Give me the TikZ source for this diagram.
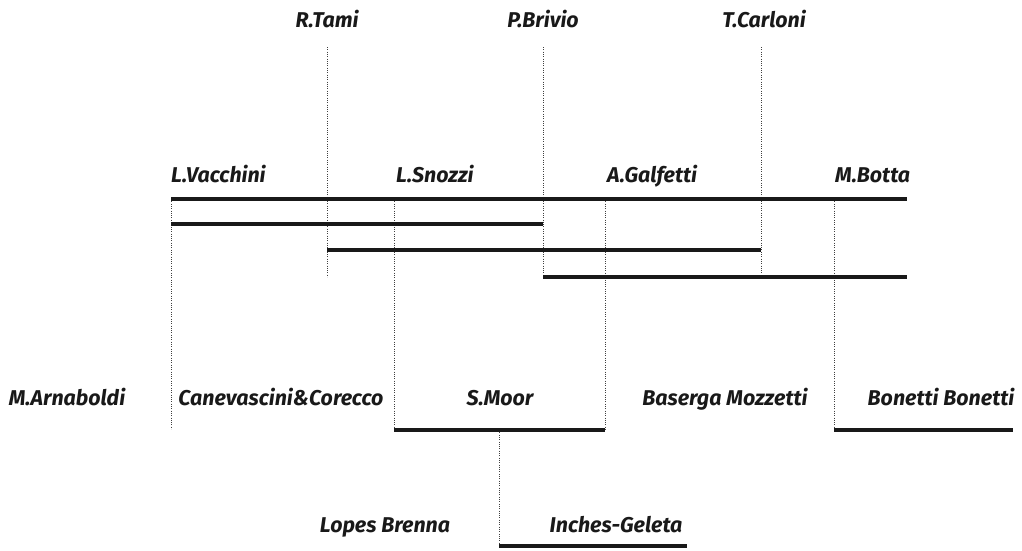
\documentclass[tikz,border=0pt]{standalone}
\usepackage{fontspec}
\setmainfont{Fira Sans}
\usepackage{tikz}
\usetikzlibrary{positioning}

\begin{document}
\begin{tikzpicture}[
    x=1pt, y=-1pt,
    arch/.style={font=\bfseries\itshape\fontsize{21.4}{21.4}\selectfont, text=black!90, inner sep=0pt},
    bar/.style={line width=4pt, black!90},
    link/.style={line width=0.7pt, black!75, dash pattern=on 0.7pt off 1.6pt}
]
\useasboundingbox (0,0) rectangle (1022,550);

% === Top row ===
\node[arch, anchor=base] (tami)    at (327,27) {R.Tami};
\node[arch, anchor=base] (brivio)  at (543,27) {P.Brivio};
\node[arch, anchor=base] (carloni) at (764,27) {T.Carloni};

% === Second row ===
\node[arch, anchor=base west] (vacchini) at (171,182) {L.Vacchini};
\node[arch, anchor=base west] (snozzi)   at (396,182) {L.Snozzi};
\node[arch, anchor=base west] (galfetti) at (607,182) {A.Galfetti};
\node[arch, anchor=base west] (botta)    at (835,182) {M.Botta};

% === Third row ===
\node[arch, anchor=base] (arnaboldi) at (67,405)  {M.Arnaboldi};
\node[arch, anchor=base] (canev)     at (281,405) {Canevascini\&Corecco};
\node[arch, anchor=base] (moor)      at (500,405) {S.Moor};
\node[arch, anchor=base] (baserga)   at (725,405) {Baserga Mozzetti};
\node[arch, anchor=base] (bonetti)   at (941,405) {Bonetti Bonetti};

% === Fourth row ===
\node[arch, anchor=base] (lopes)  at (385,532) {Lopes Brenna};
\node[arch, anchor=base] (inches) at (616,532) {Inches-Geleta};

% bar end points
\coordinate (v1) at (171,199);  \coordinate (b1) at (907,199);
\coordinate (v2) at (171,224);  \coordinate (p2) at (543,224);
\coordinate (t3) at (327,250);  \coordinate (c3) at (761,250);
\coordinate (p4) at (543,277);  \coordinate (b4) at (907,277);
\coordinate (s5) at (394,430);  \coordinate (g5) at (605,430);
\coordinate (m5) at (834,430);  \coordinate (e5) at (1013,430);
\coordinate (i6) at (499,546);  \coordinate (e6) at (687,546);

% dotted links
\coordinate (vd) at (171,429);
\coordinate (td) at (327,47);  \coordinate (tb) at (327,277);
\coordinate (pd) at (543,47);
\coordinate (cd) at (761,47);  \coordinate (cb) at (761,273);
\coordinate (sd) at (394,199);
\coordinate (gd) at (605,199);
\coordinate (md) at (834,199);
\coordinate (od) at (499,430);

\draw[link] (v1) -- (vd);
\draw[link] (td) -- (tb);
\draw[link] (pd) -- (p4);
\draw[link] (cd) -- (cb);
\draw[link] (sd) -- (s5);
\draw[link] (gd) -- (g5);
\draw[link] (md) -- (m5);
\draw[link] (od) -- (i6);

% === Bars ===
\draw[bar] (v1) -- (b1);
\draw[bar] (v2) -- (p2);
\draw[bar] (t3) -- (c3);
\draw[bar] (p4) -- (b4);
\draw[bar] (s5) -- (g5);
\draw[bar] (m5) -- (e5);
\draw[bar] (i6) -- (e6);

\end{tikzpicture}
\end{document}
